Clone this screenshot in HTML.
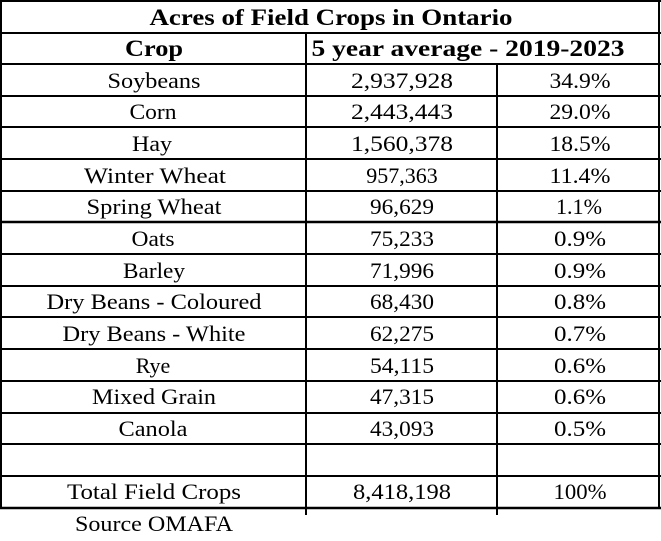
<!DOCTYPE html>
<html><head><style>
html,body{margin:0;padding:0;background:#fff;}
svg{display:block;}
text{font-family:"Liberation Serif",serif;font-size:22px;fill:#000;text-anchor:middle;}
.b{font-weight:bold;font-size:23px;}
</style></head><body>
<svg width="661" height="541" viewBox="0 0 661 541">
<g stroke="#000" stroke-width="2">
<line x1="0" y1="1" x2="661" y2="1"/>
<line x1="1" y1="0" x2="1" y2="509"/>
<line x1="659" y1="0" x2="659" y2="509"/>
<line x1="0" y1="508" x2="661" y2="508" stroke-width="2.5"/>
<line x1="0" y1="33" x2="661" y2="33"/>
<line x1="0" y1="64" x2="661" y2="64"/>
<line x1="0" y1="96" x2="661" y2="96"/>
<line x1="0" y1="127" x2="661" y2="127"/>
<line x1="0" y1="159" x2="661" y2="159"/>
<line x1="0" y1="191" x2="661" y2="191"/>
<line x1="0" y1="222" x2="661" y2="222" stroke-width="2.5"/>
<line x1="0" y1="254" x2="661" y2="254"/>
<line x1="0" y1="286" x2="661" y2="286"/>
<line x1="0" y1="317" x2="661" y2="317"/>
<line x1="0" y1="349" x2="661" y2="349"/>
<line x1="0" y1="381" x2="661" y2="381"/>
<line x1="0" y1="413" x2="661" y2="413"/>
<line x1="0" y1="444" x2="661" y2="444"/>
<line x1="0" y1="476" x2="661" y2="476"/>
<line x1="306" y1="33" x2="306" y2="515"/>
<line x1="497" y1="64" x2="497" y2="515"/>
</g>
<g>
<text class="b" x="331" y="25" textLength="363" lengthAdjust="spacingAndGlyphs">Acres of Field Crops in Ontario</text>
<text class="b" x="154" y="56" textLength="58" lengthAdjust="spacingAndGlyphs">Crop</text>
<text class="b" x="468" y="56" textLength="313" lengthAdjust="spacingAndGlyphs">5 year average - 2019-2023</text>

<text x="154" y="88" textLength="93" lengthAdjust="spacingAndGlyphs">Soybeans</text>
<text x="153" y="119" textLength="47" lengthAdjust="spacingAndGlyphs">Corn</text>
<text x="152" y="151" textLength="40" lengthAdjust="spacingAndGlyphs">Hay</text>
<text x="155" y="183" textLength="142" lengthAdjust="spacingAndGlyphs">Winter Wheat</text>
<text x="154" y="214" textLength="135" lengthAdjust="spacingAndGlyphs">Spring Wheat</text>
<text x="153" y="246" textLength="43" lengthAdjust="spacingAndGlyphs">Oats</text>
<text x="154" y="278" textLength="62" lengthAdjust="spacingAndGlyphs">Barley</text>
<text x="154" y="309" textLength="215" lengthAdjust="spacingAndGlyphs">Dry Beans - Coloured</text>
<text x="154" y="341" textLength="183" lengthAdjust="spacingAndGlyphs">Dry Beans - White</text>
<text x="153" y="373">Rye</text>
<text x="154" y="404" textLength="124" lengthAdjust="spacingAndGlyphs">Mixed Grain</text>
<text x="153" y="436" textLength="69" lengthAdjust="spacingAndGlyphs">Canola</text>
<text x="154" y="499" textLength="174" lengthAdjust="spacingAndGlyphs">Total Field Crops</text>

<text x="402" y="88" textLength="102" lengthAdjust="spacingAndGlyphs">2,937,928</text>
<text x="402" y="119" textLength="102" lengthAdjust="spacingAndGlyphs">2,443,443</text>
<text x="402" y="151" textLength="102" lengthAdjust="spacingAndGlyphs">1,560,378</text>
<text x="402" y="183">957,363</text>
<text x="402" y="214" textLength="64" lengthAdjust="spacingAndGlyphs">96,629</text>
<text x="402" y="246" textLength="64" lengthAdjust="spacingAndGlyphs">75,233</text>
<text x="402" y="278" textLength="64" lengthAdjust="spacingAndGlyphs">71,996</text>
<text x="402" y="309" textLength="64" lengthAdjust="spacingAndGlyphs">68,430</text>
<text x="402" y="341" textLength="64" lengthAdjust="spacingAndGlyphs">62,275</text>
<text x="402" y="373" textLength="64" lengthAdjust="spacingAndGlyphs">54,115</text>
<text x="402" y="404" textLength="64" lengthAdjust="spacingAndGlyphs">47,315</text>
<text x="402" y="436" textLength="64" lengthAdjust="spacingAndGlyphs">43,093</text>
<text x="402" y="499" textLength="98" lengthAdjust="spacingAndGlyphs">8,418,198</text>

<text x="580" y="88" textLength="61" lengthAdjust="spacingAndGlyphs">34.9%</text>
<text x="580" y="119" textLength="61" lengthAdjust="spacingAndGlyphs">29.0%</text>
<text x="580" y="151" textLength="61" lengthAdjust="spacingAndGlyphs">18.5%</text>
<text x="580" y="183" textLength="61" lengthAdjust="spacingAndGlyphs">11.4%</text>
<text x="579" y="214" textLength="46" lengthAdjust="spacingAndGlyphs">1.1%</text>
<text x="580" y="246" textLength="52" lengthAdjust="spacingAndGlyphs">0.9%</text>
<text x="580" y="278" textLength="52" lengthAdjust="spacingAndGlyphs">0.9%</text>
<text x="580" y="309" textLength="52" lengthAdjust="spacingAndGlyphs">0.8%</text>
<text x="580" y="341" textLength="52" lengthAdjust="spacingAndGlyphs">0.7%</text>
<text x="580" y="373" textLength="52" lengthAdjust="spacingAndGlyphs">0.6%</text>
<text x="580" y="404" textLength="52" lengthAdjust="spacingAndGlyphs">0.6%</text>
<text x="580" y="436" textLength="52" lengthAdjust="spacingAndGlyphs">0.5%</text>
<text x="580" y="499" textLength="53" lengthAdjust="spacingAndGlyphs">100%</text>

<text x="154" y="531" textLength="158" lengthAdjust="spacingAndGlyphs">Source OMAFA</text>
</g>
</svg>
</body></html>
